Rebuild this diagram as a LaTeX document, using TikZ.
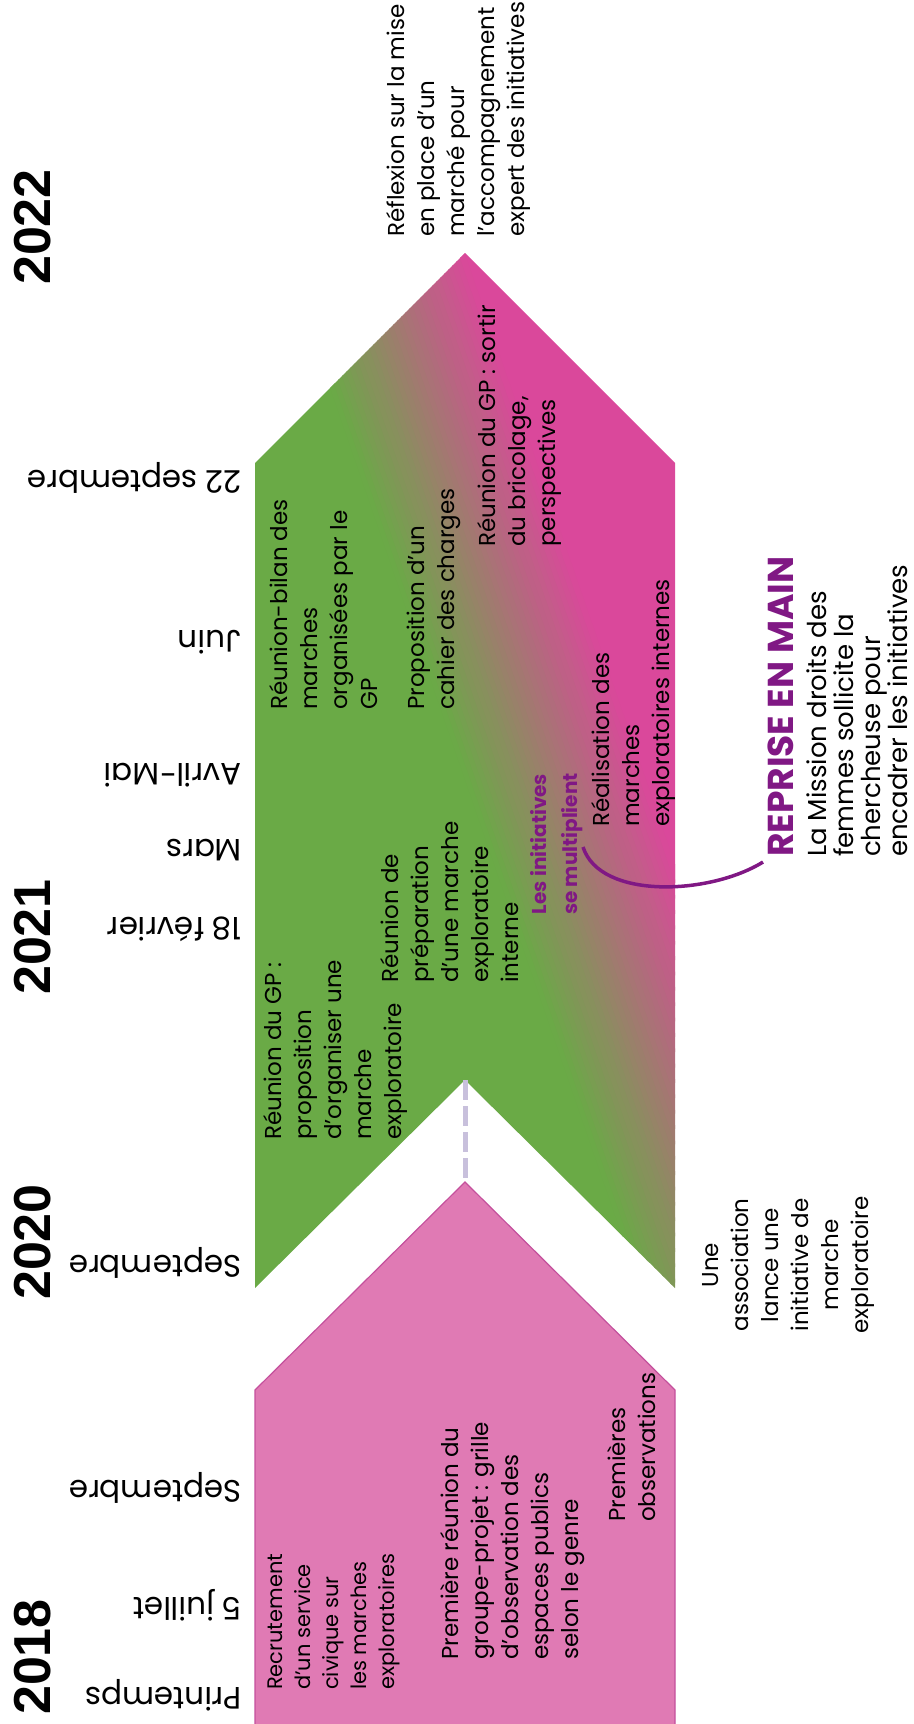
\documentclass[tikz,border=0pt]{standalone}
\usepackage{fontspec}
\setmainfont{Poppins}
\newfontfamily\yearfont{Liberation Sans}
\usetikzlibrary{positioning}

\definecolor{grn}{RGB}{106,170,70}
\definecolor{mag}{RGB}{218,72,155}
\definecolor{pk}{RGB}{224,122,180}
\definecolor{pkline}{RGB}{196,80,156}
\definecolor{plum}{RGB}{128,24,132}
\definecolor{lav}{RGB}{200,192,220}

\tikzset{
  evt/.style={rotate=90, anchor=north west, inner sep=0pt, align=left,
    font=\fontsize{23}{30}\selectfont},
  when/.style={rotate=180, anchor=west, inner sep=0pt,
    font=\fontsize{31}{31}\selectfont},
  yearlbl/.style={rotate=90, inner sep=0pt,
    font=\yearfont\bfseries\fontsize{52}{52}\selectfont},
}

\begin{document}
\begin{tikzpicture}[x=1pt, y=-1pt]
\useasboundingbox (0,0) rectangle (913,1724);

% Years
\node[yearlbl] (y2018) at (33,1657) {2018};
\node[yearlbl] (y2020) at (33,1242) {2020};
\node[yearlbl] (y2021) at (33,937) {2021};
\node[yearlbl] (y2022) at (33,227) {2022};

% Dates
\node[when] (printemps) at (242,1695) {Printemps};
\node[when] (juillet) at (242,1605) {5 juillet};
\node[when] (sept18) at (242,1488) {Septembre};
\node[when] (sept20) at (242,1263) {Septembre};
\node[when] (fevrier) at (242,929) {18 février};
\node[when] (mars) at (242,850) {Mars};
\node[when] (avril) at (242,775) {Avril-Mai};
\node[when] (juin) at (242,642) {Juin};
\node[when] (sept22) at (242,478) {22 septembre};

% 2018 arrow
\draw[pkline, fill=pk, line width=1.2pt] (255,1740) -- (255,1390) -- (465,1182) -- (675,1390) -- (675,1740);

% 2020-2022 arrow, green to pink
\begin{scope}
  \clip (255,1288) -- (465,1080) -- (675,1288) -- (675,463) -- (465,253) -- (255,463) -- cycle;
  \begin{scope}[rotate around={19:(500,620)}]
    \fill[grn] (-900,-900) rectangle (420,2600);
    \fill[mag] (580,-900) rectangle (1900,2600);
    \foreach \i [evaluate=\i as \p using int(100*(\i+0.5)/34)] in {0,...,33}
      \fill[mag!\p!grn] (415+5*\i,-900) rectangle ++(6,3500);
  \end{scope}
\end{scope}

% Gap between the two arrows
\coordinate (notch) at (465,1080);
\coordinate (pinktip) at (465,1182);
\draw[lav, line width=5pt, dash pattern=on 20pt off 6pt] (notch) -- (pinktip);

% Events
\node[evt, font=\fontsize{21}{28}\selectfont] (recrut) at (268,1690) {Recrutement\\d'un service\\civique sur\\les marches\\exploratoires};
\node[evt] (reunion1) at (440,1660) {Première réunion du\\groupe-projet : grille\\d'observation des\\espaces publics\\selon le genre};
\node[evt] (observ) at (607,1522) {Premières\\observations};
\node[evt, anchor=north, align=center] (assoc) at (702,1265) {Une\\association\\lance une\\initiative de\\marche\\exploratoire};
\node[evt] (gp1) at (263,1140) {Réunion du GP :\\proposition\\d'organiser une\\marche\\exploratoire};
\node[evt] (prep) at (380,983) {Réunion de\\préparation\\d'une marche\\exploratoire\\interne};
\node[evt, align=center, text=plum, font=\bfseries\fontsize{20}{31}\selectfont] (multi) at (530,915) {Les initiatives\\se multiplient};
\node[evt] (realis) at (591,827) {Réalisation des\\marches\\exploratoires internes};
\node[evt] (bilan) at (269,710) {Réunion-bilan des\\marches\\organisées par le\\GP};
\node[evt] (cahier) at (407,710) {Proposition d'un\\cahier des charges};
\node[evt] (sortir) at (477,547) {Réunion du GP : sortir\\du bricolage,\\perspectives};
\node[evt] (reflex) at (386,237) {Réflexion sur la mise\\en place d'un\\marché pour\\l'accompagnement\\expert des initiatives};

% Reprise en main
\node[evt, text=plum, font=\bfseries\fontsize{36}{36}\selectfont] (reprise) at (768,857) {REPRISE EN MAIN};
\node[evt, font=\fontsize{26}{27}\selectfont] (mission) at (807,857) {La Mission droits des\\femmes sollicite la\\chercheuse pour\\encadrer les initiatives};
\coordinate (arcA) at (763,862);
\coordinate (arcB) at (583,847);
\draw[plum, line width=3.5pt] (arcA) .. controls (710,895) and (600,900) .. (arcB);
\end{tikzpicture}
\end{document}
